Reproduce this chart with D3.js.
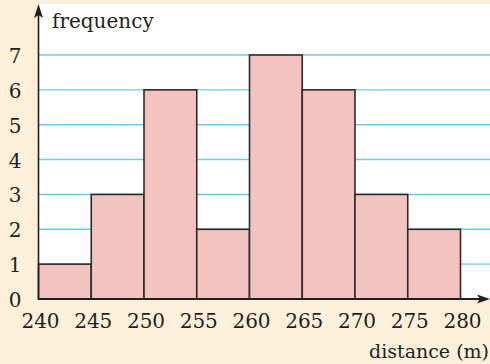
<!DOCTYPE html>
<html>
<head>
<meta charset="utf-8">
<script src="https://cdn.jsdelivr.net/npm/d3@7"></script>
<style>
  html, body { margin: 0; padding: 0; background: #fdf0db; }
  svg { display: block; }
  text { font-family: "DejaVu Serif", serif; fill: #231f20; }
</style>
</head>
<body>
<svg id="chart" width="490" height="364"></svg>
<script>
// Class boundaries of the distance groups (m)
const binEdges = [240, 245, 250, 255, 260, 265, 270, 275, 280];
// Frequency of each group
const frequencies = [1, 3, 6, 2, 7, 6, 3, 2];
// Axis tick labels
const xTicks = [240, 245, 250, 255, 260, 265, 270, 275, 280];
const yTicks = [0, 1, 2, 3, 4, 5, 6, 7];

const bins = frequencies.map((f, i) => ({ x0: binEdges[i], x1: binEdges[i + 1], f }));

const svg = d3.select("#chart");
const W = 490, H = 364;

const x = d3.scaleLinear().domain([240, 280]).range([38.5, 460.5]);
const y = d3.scaleLinear().domain([0, 7]).range([299, 55]);

// White plotting panel
svg.append("rect")
  .attr("x", 38).attr("y", 4)
  .attr("width", W - 38).attr("height", 295)
  .attr("fill", "#ffffff");

// Horizontal grid lines
svg.append("g")
  .selectAll("line")
  .data(yTicks.filter(d => d > 0))
  .join("line")
  .attr("x1", 38).attr("x2", W)
  .attr("y1", d => y(d)).attr("y2", d => y(d))
  .attr("stroke", "#6ccbef")
  .attr("stroke-width", 1.4);

// Histogram bars
svg.append("g")
  .selectAll("rect")
  .data(bins)
  .join("rect")
  .attr("x", d => x(d.x0))
  .attr("y", d => y(d.f))
  .attr("width", d => x(d.x1) - x(d.x0))
  .attr("height", d => y(0) - y(d.f))
  .attr("fill", "#f2c3bf")
  .attr("stroke", "#2e2a2b")
  .attr("stroke-width", 1.6);

// Axes with arrow heads
const axisColor = "#231f20";
svg.append("line")
  .attr("x1", x(240)).attr("x2", x(240))
  .attr("y1", y(0)).attr("y2", 14)
  .attr("stroke", axisColor).attr("stroke-width", 1.6);
svg.append("path")
  .attr("d", `M${x(240)},4 L${x(240) - 4.5},18 L${x(240)},15 L${x(240) + 4.5},18 Z`)
  .attr("fill", axisColor);

svg.append("line")
  .attr("x1", x(240)).attr("x2", 482)
  .attr("y1", y(0)).attr("y2", y(0))
  .attr("stroke", axisColor).attr("stroke-width", 1.8);
svg.append("path")
  .attr("d", `M490,${y(0)} L477,${y(0) - 4.5} L480,${y(0)} L477,${y(0) + 4.5} Z`)
  .attr("fill", axisColor);

// Tick labels
svg.append("g")
  .selectAll("text")
  .data(xTicks)
  .join("text")
  .attr("x", d => x(d) + 2)
  .attr("y", 328)
  .attr("text-anchor", "middle")
  .attr("font-size", 20)
  .text(d => d);

svg.append("g")
  .selectAll("text")
  .data(yTicks)
  .join("text")
  .attr("x", 15)
  .attr("y", d => y(d) + 8)
  .attr("text-anchor", "middle")
  .attr("font-size", 20)
  .text(d => d);

// Axis titles
svg.append("text")
  .attr("x", 52).attr("y", 28)
  .attr("font-size", 20)
  .text("frequency");

svg.append("text")
  .attr("x", 489).attr("y", 358)
  .attr("text-anchor", "end")
  .attr("font-size", 19)
  .text("distance (m)");
</script>
</body>
</html>
